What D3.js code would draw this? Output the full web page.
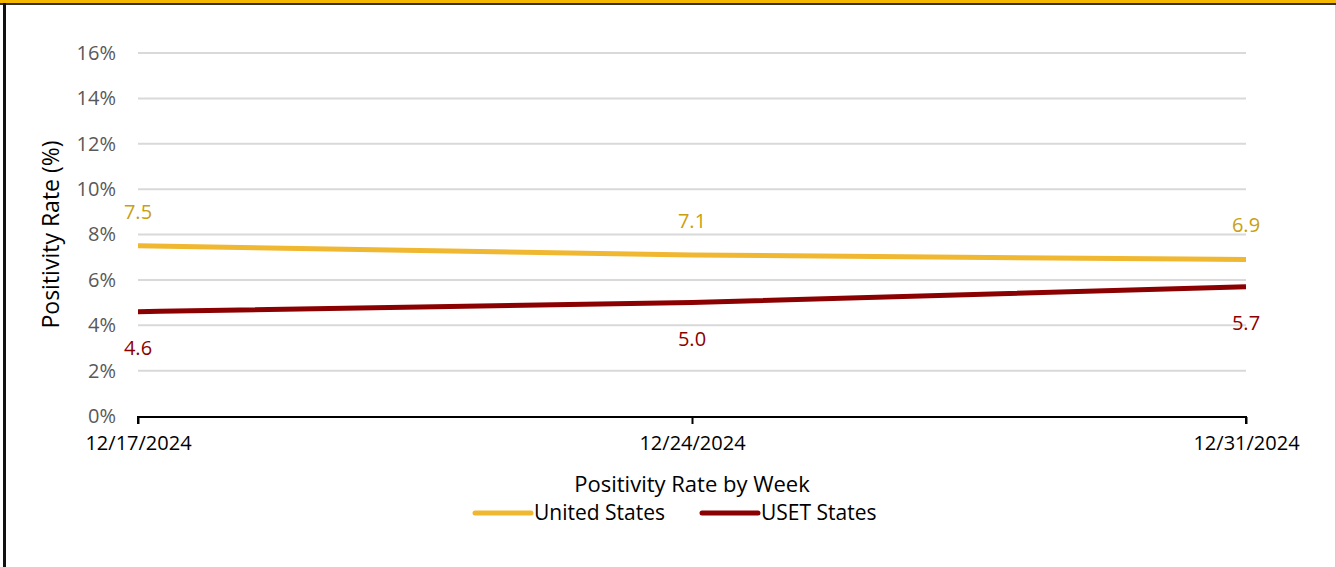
<!DOCTYPE html>
<html>
<head>
<meta charset="utf-8">
<script src="https://cdn.jsdelivr.net/npm/d3@7"></script>
<style>
  body { margin: 0; background: #fff; }
  svg { display: block; font-family: "Open Sans", "Liberation Sans", sans-serif; }
</style>
</head>
<body>
<svg id="chart" width="1336" height="567"></svg>
<script>
// Data
const weeks = ["12/17/2024", "12/24/2024", "12/31/2024"];
const unitedStates = [7.5, 7.1, 6.9];
const usetStates = [4.6, 5.0, 5.7];
const yTicks = [0, 2, 4, 6, 8, 10, 12, 14, 16];

const series = [
    {name: "United States", values: unitedStates, colour: "#F0B731", labelColour: "#C9A00F", labelDy: -27},
    {name: "USET States", values: usetStates, colour: "#8B0000", labelColour: "#8B0000", labelDy: 43}
];

const width = 1336, height = 567;
const margin = {left: 138, right: 90, top: 53, bottom: 151};
const fontFamily = "'Open Sans', 'Liberation Sans', sans-serif";

const svg = d3.select("#chart");

// Frame
svg.append("rect").attr("x", 0).attr("y", 0).attr("width", width).attr("height", 3).attr("fill", "#F5B800");
svg.append("rect").attr("x", 0).attr("y", 3).attr("width", width).attr("height", 2).attr("fill", "#333");
svg.append("rect").attr("x", 3).attr("y", 3).attr("width", 3).attr("height", height).attr("fill", "#111");
svg.append("rect").attr("x", 1335).attr("y", 5).attr("width", 1).attr("height", height).attr("fill", "#d0d0d0");

const x = d3.scalePoint()
    .domain(weeks)
    .range([margin.left, width - margin.right]);
const y = d3.scaleLinear()
    .domain([0, 16])
    .range([height - margin.bottom, margin.top]);

// Gridlines
svg.append("g")
    .selectAll("line")
    .data(yTicks.filter(d => d > 0))
    .join("line")
    .attr("x1", margin.left).attr("x2", width - margin.right)
    .attr("y1", d => y(d)).attr("y2", d => y(d))
    .attr("stroke", "#d9d9d9").attr("stroke-width", 2);

// Y axis labels
const yAxis = svg.append("g")
    .attr("transform", `translate(${margin.left}, 0)`)
    .call(d3.axisLeft(y).tickValues(yTicks).tickFormat(d => d + "%").tickSize(0).tickPadding(22));
yAxis.attr("font-family", fontFamily).attr("font-size", 20);
yAxis.select(".domain").remove();
yAxis.selectAll("text").attr("fill", "#595959");

// X axis
const xAxis = svg.append("g")
    .attr("transform", `translate(0, ${y(0) + 1})`)
    .call(d3.axisBottom(x).tickSize(7).tickSizeOuter(0).tickPadding(12));
xAxis.attr("font-family", fontFamily).attr("font-size", 20);
xAxis.select(".domain").attr("stroke", "#000").attr("stroke-width", 2).attr("d", `M${margin.left},7V0H${width - margin.right}V7`);
xAxis.selectAll(".tick line").attr("stroke", "#000").attr("stroke-width", 2);
xAxis.selectAll("text").attr("fill", "#000");

// Lines
const line = d3.line()
    .x((d, i) => x(weeks[i]))
    .y(d => y(d))
    .curve(d3.curveMonotoneX);

series.forEach(s => {
    svg.append("path")
        .datum(s.values)
        .attr("d", line)
        .attr("fill", "none")
        .attr("stroke", s.colour)
        .attr("stroke-width", 5);
    svg.append("g")
        .selectAll("text")
        .data(s.values)
        .join("text")
        .attr("x", (d, i) => x(weeks[i]))
        .attr("y", d => y(d) + s.labelDy)
        .attr("text-anchor", "middle")
        .attr("fill", s.labelColour)
        .style("font-size", "20px")
        .text(d => d.toFixed(1));
});

// Axis titles
svg.append("text")
    .attr("transform", `translate(59, ${(y(0) + y(16)) / 2}) rotate(-90)`)
    .attr("text-anchor", "middle")
    .style("font-size", "23px")
    .attr("fill", "#000")
    .text("Positivity Rate (%)");
svg.append("text")
    .attr("x", (margin.left + width - margin.right) / 2)
    .attr("y", 492)
    .attr("text-anchor", "middle")
    .style("font-size", "22px")
    .attr("fill", "#000")
    .text("Positivity Rate by Week");

// Legend
const legend = svg.append("g");
const legendX = [475, 702];
series.forEach((s, i) => {
    const g = legend.append("g").attr("transform", `translate(${legendX[i]}, 513)`);
    g.append("line").attr("x1", 0).attr("x2", 56).attr("y1", 0).attr("y2", 0)
        .attr("stroke", s.colour).attr("stroke-width", 5).attr("stroke-linecap", "round");
    g.append("text").attr("x", 59).attr("y", 7).style("font-size", "21px").attr("fill", "#000").text(s.name);
});
</script>
</body>
</html>
